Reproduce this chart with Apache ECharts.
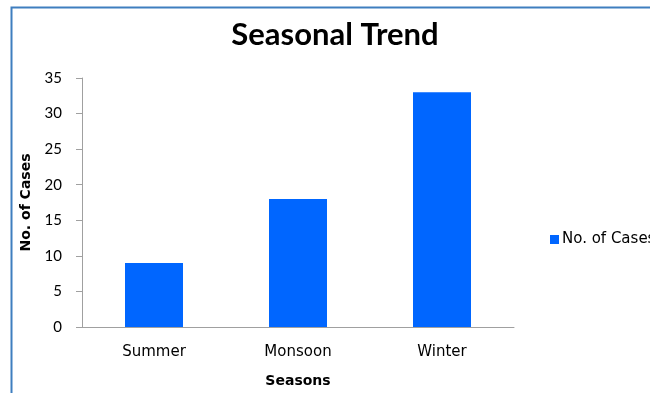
<!DOCTYPE html>
<html><head><meta charset="utf-8">
<script src="https://cdn.jsdelivr.net/npm/echarts@6/dist/echarts.min.js"></script>
<style>html,body{margin:0;padding:0;background:#fff}#c{width:650px;height:393px}</style>
</head><body><div id="c"></div>
<script>
const categories = ['Summer', 'Monsoon', 'Winter'];
const cases = [9, 18, 33];
const seriesName = 'No. of Cases';

const chart = echarts.init(document.getElementById('c'));
chart.setOption({
  animation: false,
  backgroundColor: '#fff',
  title: {
    text: 'Seasonal Trend', left: 330, top: 14, textAlign: 'center',
    textStyle: { fontFamily: 'Lato', fontWeight: 'bold', fontSize: 31, color: '#000' }
  },
  graphic: [{
    type: 'rect', shape: { x: 11.5, y: 7.5, width: 700, height: 450 },
    style: { fill: 'none', stroke: '#3f7ebf', lineWidth: 2 }, z: 100
  }],
  legend: {
    left: 545, top: 227, itemWidth: 9, itemHeight: 9, itemGap: 0,
    icon: 'rect',
    textStyle: { fontFamily: 'DejaVu Sans', fontSize: 15, color: '#000', padding: [0, 0, 0, -2] },
    data: [seriesName]
  },
  grid: { left: 82, right: 136, top: 78, bottom: 64, containLabel: false },
  xAxis: {
    type: 'category', data: categories,
    name: 'Seasons', nameLocation: 'middle', nameGap: 47,
    nameTextStyle: { fontFamily: 'DejaVu Sans', fontWeight: 'bold', fontSize: 14, color: '#000' },
    axisLine: { lineStyle: { color: '#a0a0a0' } },
    axisTick: { show: false },
    axisLabel: { fontFamily: 'DejaVu Sans', fontSize: 15, color: '#000', margin: 18 }
  },
  yAxis: {
    type: 'value', min: 0, max: 35, interval: 5,
    name: 'No. of Cases', nameLocation: 'middle', nameGap: 45, nameRotate: 90,
    nameTextStyle: { fontFamily: 'DejaVu Sans', fontWeight: 'bold', fontSize: 14, color: '#000' },
    axisLine: { show: true, lineStyle: { color: '#a0a0a0' } },
    axisTick: { show: true, length: 6, lineStyle: { color: '#a0a0a0' } },
    splitLine: { show: false },
    axisLabel: { fontFamily: 'Lato', fontSize: 15, color: '#000', margin: 20 }
  },
  series: [{
    name: seriesName, type: 'bar', data: cases, barWidth: 58,
    itemStyle: { color: '#0066ff' }
  }]
});
</script></body></html>
